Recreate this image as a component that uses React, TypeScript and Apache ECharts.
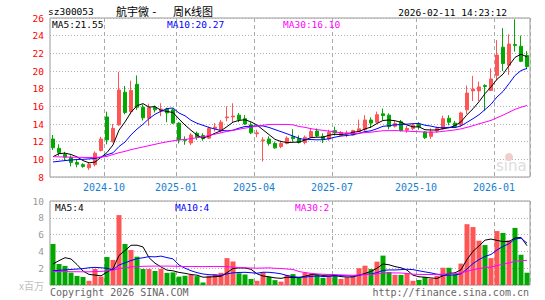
import React, { useEffect, useRef } from "react";
import * as echarts from "echarts";

const categories = [
  "2024-08-09","2024-08-16","2024-08-23","2024-08-30","2024-09-06","2024-09-13","2024-09-20","2024-09-27","2024-09-30","2024-10-11",
  "2024-10-18","2024-10-25","2024-11-01","2024-11-08","2024-11-15","2024-11-22","2024-11-29","2024-12-06","2024-12-13","2024-12-20",
  "2024-12-27","2025-01-03","2025-01-10","2025-01-17","2025-01-24","2025-01-27","2025-02-07","2025-02-14","2025-02-21","2025-02-28",
  "2025-03-07","2025-03-14","2025-03-21","2025-03-28","2025-04-03","2025-04-11","2025-04-18","2025-04-25","2025-04-30","2025-05-09",
  "2025-05-16","2025-05-23","2025-05-30","2025-06-06","2025-06-13","2025-06-20","2025-06-27","2025-07-04","2025-07-11","2025-07-18",
  "2025-07-25","2025-08-01","2025-08-08","2025-08-15","2025-08-22","2025-08-29","2025-09-05","2025-09-12","2025-09-19","2025-09-26",
  "2025-09-30","2025-10-10","2025-10-17","2025-10-24","2025-10-31","2025-11-07","2025-11-14","2025-11-21","2025-11-28","2025-12-05",
  "2025-12-12","2025-12-19","2025-12-26","2025-12-31","2026-01-09","2026-01-16","2026-01-23","2026-01-30","2026-02-06","2026-02-11",
];

const opens = [
  12.3,11.25,10.55,10.2,9.65,9.4,9.05,9.4,11.0,14.8,
  12.0,13.9,17.6,15.4,18.5,15.9,14.65,15.9,15.45,15.7,
  15.6,14.1,12.25,11.85,12.95,12.7,12.4,13.5,13.2,14.7,
  14.8,15.0,14.6,13.9,12.9,12.1,12.3,11.8,11.45,11.8,
  12.55,12.35,11.9,12.5,13.2,12.6,12.3,13.25,12.7,12.85,
  12.75,13.15,13.35,14.45,14.2,15.15,15.0,13.75,14.25,13.3,
  13.5,13.95,13.1,12.6,13.2,13.45,14.65,14.1,13.9,15.6,
  17.75,17.75,18.35,17.8,19.5,22.7,20.65,23.0,22.8,21.75,
];
const closes = [
  11.3,10.75,10.25,9.65,9.45,9.2,9.43,10.7,12.3,12.2,
  13.5,17.85,15.3,17.8,15.9,14.7,15.85,15.6,15.7,15.25,
  14.1,12.2,12.15,12.75,12.5,12.35,13.5,13.65,14.2,14.8,
  14.9,14.5,14.0,13.0,13.0,12.2,11.8,11.3,11.8,12.4,
  12.35,11.9,12.5,13.15,12.65,12.3,13.05,13.0,13.05,13.0,
  13.25,13.45,14.45,14.1,15.05,14.95,13.7,14.05,13.25,13.5,
  13.85,13.7,12.45,13.1,13.5,14.6,14.2,13.7,15.25,17.5,
  17.95,18.2,18.25,19.1,21.8,20.85,23.05,22.9,21.1,20.5,
];
const lows = [
  11.05,10.4,9.85,9.2,9.1,9.05,8.8,9.2,10.9,11.7,
  11.9,13.8,15.1,15.1,15.6,14.4,13.8,15.3,14.9,14.2,
  14.0,11.8,11.65,11.6,12.2,12.1,12.3,13.15,13.0,14.3,
  14.2,14.2,13.9,12.85,12.5,9.75,11.55,11.2,11.25,11.7,
  12.0,11.8,11.7,12.45,12.55,11.85,12.1,12.7,12.6,12.5,
  12.7,13.1,13.15,13.55,14.1,14.45,13.4,13.6,13.15,13.0,
  13.3,13.35,12.3,12.3,13.0,13.35,13.85,13.6,13.7,15.1,
  16.6,16.6,15.5,17.8,18.95,20.0,19.55,22.2,21.0,20.2,
];
const highs = [
  12.75,11.7,10.85,10.45,9.95,9.55,9.7,10.9,12.55,15.4,
  14.0,19.9,18.3,18.9,19.5,16.2,16.3,16.1,16.35,15.85,
  15.75,14.2,12.6,12.95,13.15,12.95,13.7,14.1,14.45,16.0,
  16.35,15.25,15.0,14.2,13.35,12.5,12.6,12.0,12.1,12.6,
  13.4,12.7,12.7,13.55,13.5,12.95,13.35,13.7,13.2,13.25,
  13.35,14.5,15.0,14.75,15.4,15.75,15.2,14.4,14.45,13.8,
  14.0,14.2,13.2,13.5,13.7,14.95,15.0,14.35,15.4,18.35,
  19.45,18.8,18.5,20.3,23.5,24.85,24.15,25.85,24.0,22.25,
];

const ma5 = [
  10.3,10.65,10.7,10.55,10.28,9.86,9.6,9.69,10.22,10.77,
  11.63,13.31,14.23,15.33,16.07,16.31,15.91,15.97,15.55,15.42,
  15.3,14.57,13.88,13.29,12.74,12.39,12.65,12.95,13.24,13.7,
  14.21,14.41,14.48,14.24,13.88,13.34,12.8,12.26,12.02,11.9,
  11.93,11.95,12.19,12.46,12.51,12.5,12.73,12.83,12.81,12.88,
  13.07,13.15,13.44,13.65,14.06,14.4,14.45,14.37,14.2,13.89,
  13.67,13.67,13.35,13.32,13.32,13.47,13.57,13.82,14.25,15.05,
  15.72,16.52,17.43,18.2,19.06,19.64,20.61,21.54,21.9,21.6,
];
const ma10 = [
  9.7,9.78,9.86,9.92,9.98,10.0,10.05,10.1,10.25,10.52,
  10.74,11.45,11.96,12.77,13.42,13.97,14.61,15.1,15.44,15.75,
  15.81,15.24,14.93,14.42,14.08,13.85,13.61,13.42,13.27,13.22,
  13.3,13.53,13.72,13.74,13.79,13.78,13.61,13.37,13.13,12.89,
  12.64,12.38,12.23,12.24,12.21,12.22,12.34,12.51,12.64,12.7,
  12.79,12.94,13.14,13.23,13.47,13.74,13.8,13.91,13.93,13.98,
  14.04,14.06,13.86,13.76,13.61,13.57,13.62,13.59,13.79,14.19,
  14.6,15.05,15.63,16.23,17.06,17.68,18.57,19.49,20.05,20.3,
];
const ma30 = [
  10.3,10.28,10.26,10.25,10.24,10.22,10.2,10.22,10.25,10.33,
  10.55,10.75,10.9,11.1,11.25,11.4,11.55,11.7,11.85,11.98,
  12.1,12.2,12.25,12.35,12.45,12.55,12.7,12.85,13.0,13.16,
  13.28,13.41,13.53,13.64,13.76,13.86,13.94,13.96,13.95,13.95,
  13.91,13.72,13.62,13.47,13.36,13.28,13.19,13.1,13.01,12.94,
  12.91,12.95,13.03,13.07,13.16,13.24,13.25,13.26,13.23,13.19,
  13.15,13.13,13.07,13.08,13.09,13.17,13.25,13.33,13.45,13.62,
  13.81,14.02,14.21,14.41,14.71,15.0,15.33,15.66,15.9,16.1,
];

const volumes = [
  4.88,2.5,2.27,1.47,1.08,0.96,0.5,1.91,1.0,3.33,
  2.98,8.32,4.88,4.16,3.37,1.91,1.91,1.67,1.91,1.44,
  1.5,1.0,1.1,1.2,1.05,0.3,1.1,1.3,1.45,3.2,
  2.8,1.4,1.25,0.72,0.5,1.5,0.95,0.58,0.4,1.2,
  1.3,0.85,1.45,1.35,1.2,0.85,1.05,1.2,0.72,0.9,
  1.0,2.0,2.3,1.9,2.78,3.5,1.55,1.2,1.2,1.4,
  0.5,0.6,0.95,0.75,1.1,2.05,2.05,1.3,2.55,7.24,
  6.9,5.27,4.75,3.2,6.42,6.2,5.32,6.8,3.6,1.46,
];
const vma5 = [
  2.5,2.9,3.25,3.1,2.44,1.66,1.26,1.18,1.09,1.54,
  1.94,3.51,4.1,4.73,4.74,4.53,3.25,2.6,2.15,1.77,
  1.69,1.5,1.39,1.25,1.17,0.93,0.95,0.99,1.04,1.47,
  1.97,2.03,2.02,1.87,1.33,1.07,0.98,0.85,0.79,0.93,
  0.89,0.87,1.04,1.23,1.23,1.14,1.18,1.13,1.0,0.94,
  0.97,1.16,1.38,1.62,2.0,2.5,2.41,2.19,2.05,1.77,
  1.17,0.98,0.93,0.84,0.78,1.09,1.38,1.45,1.81,3.04,
  4.01,4.65,5.34,5.47,5.31,5.17,5.18,5.59,5.67,4.68,
];
const vma10 = [
  1.7,1.75,1.8,1.85,1.9,1.95,2.05,2.1,2.05,1.99,
  1.8,2.38,2.64,2.91,3.14,3.24,3.38,3.35,3.44,3.26,
  3.11,2.38,2.0,1.7,1.47,1.31,1.23,1.19,1.14,1.32,
  1.45,1.49,1.51,1.46,1.4,1.52,1.51,1.44,1.33,1.13,
  0.98,0.93,0.95,1.01,1.08,1.01,1.02,1.09,1.12,1.09,
  1.06,1.17,1.26,1.31,1.47,1.74,1.79,1.79,1.83,1.88,
  1.83,1.69,1.56,1.44,1.28,1.13,1.18,1.19,1.33,1.91,
  2.55,3.02,3.4,3.64,4.17,4.59,4.92,5.47,5.57,4.99,
];
const vma30 = [
  1.62,1.6,1.6,1.58,1.58,1.57,1.57,1.6,1.62,1.68,
  1.75,1.95,2.05,2.15,2.2,2.22,2.24,2.25,2.25,2.25,
  2.24,2.22,2.2,2.21,2.2,2.19,2.2,2.21,2.2,2.19,
  2.12,2.08,2.05,2.02,2.0,2.02,2.04,1.99,1.97,1.9,
  1.85,1.6,1.48,1.39,1.32,1.28,1.25,1.24,1.2,1.18,
  1.16,1.2,1.24,1.26,1.32,1.42,1.44,1.44,1.43,1.37,
  1.29,1.26,1.25,1.25,1.27,1.29,1.33,1.35,1.43,1.63,
  1.81,1.96,2.07,2.13,2.31,2.48,2.63,2.81,2.91,2.93,
];

const quarterMonths = ["01", "04", "07", "10"];
const priceTicks = { min: 8, max: 26, step: 2 };
const volTicks = { min: 0, max: 10, step: 2 };

const UP = "#ff5555";
const DOWN = "#00a800";
const MONO = "'DejaVu Sans Mono', monospace";
const CJK = "'Noto Sans CJK SC', 'Noto Sans', sans-serif";

function isQuarterStart(i: number): boolean {
  if (i === 0) return false;
  const m = categories[i].slice(5, 7);
  const pm = categories[i - 1].slice(5, 7);
  return m !== pm && quarterMonths.includes(m);
}

function txt(text: string, x: number, y: number, fill: string, size: number, family = MONO, align = "left") {
  return {
    type: "text",
    x,
    y,
    silent: true,
    z: 100,
    style: {
      text,
      fill,
      font: `${size}px ${family}`,
      textAlign: align,
      align,
      textVerticalAlign: "middle",
      verticalAlign: "middle",
    },
  };
}

export default function App() {
  const ref = useRef<HTMLDivElement>(null);

  useEffect(() => {
    document.body.style.margin = "0";
    if (!ref.current) return;
    const chart = echarts.init(ref.current, undefined, { renderer: "svg" });

    const candleData = categories.map((_, i) => [opens[i], closes[i], lows[i], highs[i]]);
    const volData = volumes.map((v, i) => ({
      value: v,
      itemStyle: { color: closes[i] >= opens[i] ? UP : DOWN },
    }));

    const splitX = {
      show: true,
      interval: (i: number) => isQuarterStart(i),
      lineStyle: { color: "#aaaaaa", type: [4, 3], width: 1 },
    };
    const splitY = { show: true, lineStyle: { color: "#b0b0b0", type: [1, 2], width: 1 } };

    const lineSeries = (name: string, data: number[], color: string, xi: number) => ({
      name,
      type: "line",
      data,
      xAxisIndex: xi,
      yAxisIndex: xi,
      symbol: "none",
      showSymbol: false,
      z: 5,
      lineStyle: { color, width: 1 },
      silent: true,
    });

    chart.setOption({
      animation: false,
      backgroundColor: "#ffffff",
      grid: [
        { left: 50, top: 18, width: 480, height: 159, show: true, borderColor: "#999999", borderWidth: 1, backgroundColor: "transparent" },
        { left: 50, top: 201, width: 480, height: 84, show: true, borderColor: "#999999", borderWidth: 1, backgroundColor: "transparent" },
      ],
      xAxis: [
        {
          type: "category",
          data: categories,
          gridIndex: 0,
          boundaryGap: true,
          axisLine: { show: false },
          axisTick: { show: false },
          axisLabel: {
            interval: (i: number) => isQuarterStart(i),
            formatter: (v: string) => v.slice(0, 7),
            color: "#1680d0",
            fontSize: 10,
            fontFamily: MONO,
            margin: 5,
            padding: [0, 6, 0, 0],
          },
          splitLine: splitX,
        },
        {
          type: "category",
          data: categories,
          gridIndex: 1,
          boundaryGap: true,
          axisLine: { show: false },
          axisTick: { show: false },
          axisLabel: { show: false },
          splitLine: splitX,
        },
      ],
      yAxis: [
        {
          type: "value",
          gridIndex: 0,
          min: priceTicks.min,
          max: priceTicks.max,
          interval: priceTicks.step,
          axisLine: { show: false },
          axisTick: { show: false },
          axisLabel: { color: "#ff0000", fontSize: 9.5, fontFamily: MONO, margin: 6 },
          splitLine: splitY,
        },
        {
          type: "value",
          gridIndex: 1,
          min: volTicks.min,
          max: volTicks.max,
          interval: volTicks.step,
          axisLine: { show: false },
          axisTick: { show: false },
          axisLabel: {
            color: "#999999",
            fontSize: 9.5,
            fontFamily: MONO,
            margin: 6,
            formatter: (v: number) => (v === 0 ? "{u|x百万}" : String(v)),
            rich: { u: { color: "#c0c0c0", fontSize: 10, fontFamily: CJK } },
          },
          splitLine: splitY,
        },
      ],
      series: [
        {
          type: "candlestick",
          data: candleData,
          xAxisIndex: 0,
          yAxisIndex: 0,
          barWidth: 4,
          silent: true,
          itemStyle: {
            color: UP,
            color0: DOWN,
            borderColor: UP,
            borderColor0: DOWN,
            borderWidth: 1,
          },
        },
        lineSeries("MA5", ma5, "#000000", 0),
        lineSeries("MA10", ma10, "#0000ff", 0),
        lineSeries("MA30", ma30, "#ff00ff", 0),
        {
          type: "bar",
          data: volData,
          xAxisIndex: 1,
          yAxisIndex: 1,
          barWidth: 5,
          silent: true,
        },
        lineSeries("VMA5", vma5, "#000000", 1),
        lineSeries("VMA10", vma10, "#0000ff", 1),
        lineSeries("VMA30", vma30, "#ff00ff", 1),
      ],
      graphic: [
        txt("sz300053", 48, 11, "#000000", 9.5),
        txt("航宇微", 116, 11, "#000000", 11, CJK),
        txt("-", 151, 11, "#000000", 11, MONO),
        txt("周K线图", 173, 11, "#000000", 11, CJK),
        txt("2026-02-11 14:23:12", 507, 12, "#000000", 9.5, MONO, "right"),
        txt("MA5:21.55", 52, 24, "#000000", 9.5),
        txt("MA10:20.27", 167, 24, "#0000ff", 9.5),
        txt("MA30:16.10", 283, 24, "#ff00ff", 9.5),
        txt("MA5:4", 55, 207, "#000000", 9.5),
        txt("MA10:4", 175, 207, "#0000ff", 9.5),
        txt("MA30:2", 295, 207, "#ff00ff", 9.5),
        txt("Copyright 2026 SINA.COM", 50, 292, "#666666", 10),
        txt("http://finance.sina.com.cn", 529, 292, "#666666", 10, MONO, "right"),
        {
          type: "circle",
          silent: true,
          z: 1,
          shape: { cx: 509, cy: 157, r: 4 },
          style: { fill: "#f3cccc" },
        },
        txt("sina", 496, 166, "#dddddd", 15, "'DejaVu Sans', sans-serif"),
      ],
    });

    return () => chart.dispose();
  }, []);

  return <div ref={ref} style={{ width: 545, height: 300 }} />;
}
